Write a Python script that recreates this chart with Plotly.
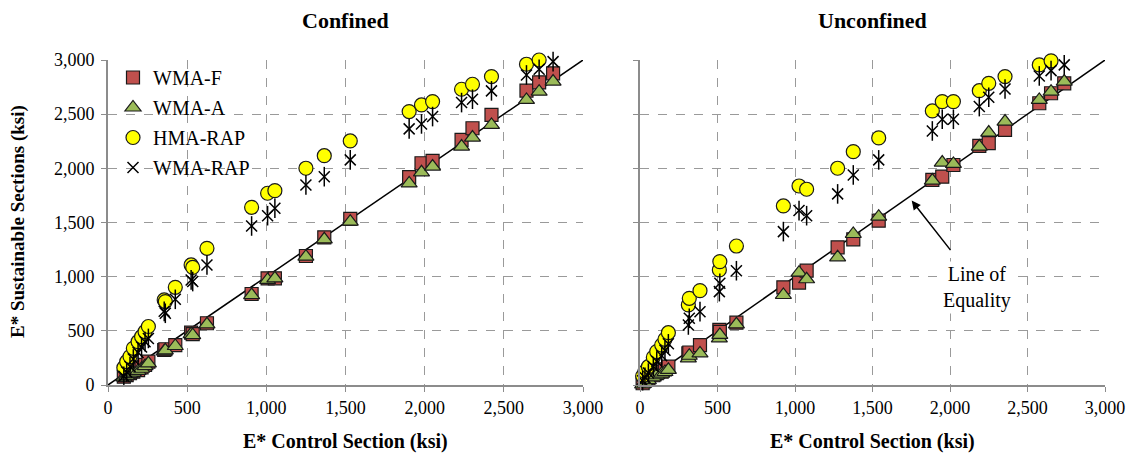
import plotly.graph_objects as go

# ---- Confined (E* control section, ksi) ----
conf_x = [100, 118, 139, 160, 190, 212, 234, 255, 355, 362, 425, 525, 535, 625,
          907, 1008, 1054, 1250, 1366, 1530, 1902, 1980, 2050, 2233, 2302, 2422,
          2643, 2723, 2811]
conf_wma_f = [77, 92, 110, 123, 138, 163, 185, 215, 323, 330, 369, 483, 470, 570,
              840, 985, 985, 1191, 1363, 1533, 1918, 2047, 2068, 2262, 2370, 2493,
              2717, 2794, 2877]
conf_wma_a = [70, 85, 100, 115, 130, 150, 175, 200, 310, 320, 360, 470, 460, 560,
              830, 970, 985, 1185, 1345, 1508, 1861, 1963, 2016, 2201, 2284, 2401,
              2632, 2708, 2801]
conf_hma_rap = [160, 215, 262, 339, 400, 446, 492, 540, 785, 770, 902, 1108, 1085, 1262,
                1640, 1770, 1794, 2001, 2117, 2253, 2524, 2585, 2616, 2730, 2776, 2847,
                2961, 3000, None]
conf_wma_rap = [80, 120, 170, 240, 300, 350, 400, 430, 680, 662, 791, 970, 955, 1108,
                1468, 1563, 1631, 1847, 1923, 2078, 2364, 2410, 2478, 2607, 2638, 2715,
                2862, 2915, 2985]

# ---- Unconfined ----
unc_x = [17, 32, 54, 86, 108, 140, 161, 183, 312, 318, 387, 512, 515, 622,
         925, 1026, 1075, 1275, 1376, 1540, 1886, 1950, 2022, 2189, 2250, 2355,
         2576, 2652, 2737]
unc_wma_f = [16, 40, 62, 90, 110, 123, 145, 169, 292, 300, 369, 508, 490, 575,
             902, 945, 1055, 1271, 1345, 1517, 1893, 1923, 2031, 2207, 2232, 2355,
             2601, 2693, 2785]
unc_wma_a = [5, 25, 45, 70, 90, 105, 120, 140, 246, 270, 292, 431, 462, 560,
             831, 1037, 976, 1179, 1394, 1554, 1887, 2053, 2041, 2201, 2330, 2432,
             2632, 2708, 2801]
unc_hma_rap = [83, 123, 169, 255, 308, 369, 422, 483, 739, 800, 871, 1062, 1139, 1283,
               1653, 1837, 1807, 2001, 2154, 2281, 2530, 2616, 2616, 2717, 2785, 2847,
               2955, 2992, None]
unc_wma_rap = [40, 70, 110, 170, 220, 270, 320, 380, 554, 616, 677, 862, 939, 1055,
               1416, 1610, 1563, 1764, 1939, 2078, 2345, 2453, 2453, 2570, 2656, 2733,
               2853, 2902, 2955]

equality = [0, 3000]
tick_vals = [0, 500, 1000, 1500, 2000, 2500, 3000]
tick_text = ["0", "500", "1,000", "1,500", "2,000", "2,500", "3,000"]

FONT = "Liberation Serif, Tinos, DejaVu Serif, serif"
W, H = 1138, 459

fig = go.Figure()

panels = [
    ("x", "y", conf_x, conf_wma_f, conf_wma_a, conf_hma_rap, conf_wma_rap, True),
    ("x2", "y2", unc_x, unc_wma_f, unc_wma_a, unc_hma_rap, unc_wma_rap, False),
]

for xa, ya, xs, f, a, h, r, legend in panels:
    fig.add_trace(go.Scatter(x=equality, y=equality, mode="lines", xaxis=xa, yaxis=ya,
                             line=dict(color="black", width=1.5), showlegend=False,
                             hoverinfo="skip"))
    fig.add_trace(go.Scatter(x=xs, y=f, mode="markers", name="WMA-F", xaxis=xa, yaxis=ya,
                             legendgroup="f", showlegend=legend, cliponaxis=False,
                             marker=dict(symbol="square", size=13, color="#C0504D",
                                         line=dict(color="#1a1a1a", width=1.2))))
    fig.add_trace(go.Scatter(x=xs, y=a, mode="markers", name="WMA-A", xaxis=xa, yaxis=ya,
                             legendgroup="a", showlegend=legend, cliponaxis=False,
                             marker=dict(symbol="triangle-up", size=14, color="#9BBB59",
                                         line=dict(color="#1a1a1a", width=1.2))))
    fig.add_trace(go.Scatter(x=xs, y=h, mode="markers", name="HMA-RAP", xaxis=xa, yaxis=ya,
                             legendgroup="h", showlegend=legend, cliponaxis=False,
                             marker=dict(symbol="circle", size=14, color="#FFFF00",
                                         line=dict(color="#1a1a1a", width=1.2))))
    # six-armed star: an X plus a vertical stroke
    fig.add_trace(go.Scatter(x=xs, y=r, mode="markers", name="WMA-RAP", xaxis=xa, yaxis=ya,
                             legendgroup="r", showlegend=legend, cliponaxis=False,
                             marker=dict(symbol="x-thin-open", size=11, color="black",
                                         line=dict(color="black", width=1.5))))
    fig.add_trace(go.Scatter(x=xs, y=r, mode="markers", name="WMA-RAP", xaxis=xa, yaxis=ya,
                             legendgroup="r", showlegend=False, cliponaxis=False,
                             marker=dict(symbol="line-ns-open", size=14, color="black",
                                         line=dict(color="black", width=1.5))))

axis_common = dict(
    range=[0, 3000], tickvals=tick_vals, ticktext=tick_text,
    showgrid=True, gridcolor="#9a9a9a", griddash="dash", gridwidth=1,
    showline=True, linecolor="#8c8c8c", linewidth=2,
    ticks="outside", ticklen=5, tickcolor="#8c8c8c", tickwidth=1,
    zeroline=False, tickfont=dict(family=FONT, size=18, color="black"),
    fixedrange=True, automargin=False,
)

y0, y1 = 1 - 385 / H, 1 - 60 / H
fig.update_layout(
    width=W, height=H,
    margin=dict(l=0, r=0, t=0, b=0, autoexpand=False),
    paper_bgcolor="white", plot_bgcolor="white",
    font=dict(family=FONT, color="black"),
    xaxis=dict(axis_common, domain=[108 / W, 583 / W], anchor="y"),
    yaxis=dict(axis_common, domain=[y0, y1], anchor="x", ticklabelstandoff=3),
    xaxis2=dict(axis_common, domain=[640 / W, 1105 / W], anchor="y2"),
    yaxis2=dict(axis_common, domain=[y0, y1], anchor="x2", showticklabels=False),
    showlegend=True,
    legend=dict(x=113 / W, y=1 - 58 / H, xanchor="left", yanchor="top",
                bgcolor="rgba(0,0,0,0)", font=dict(family=FONT, size=20),
                traceorder="grouped", tracegroupgap=1, itemwidth=30),
)


def label(text, x, y, size, angle=0):
    return dict(text=text, x=x / W, y=1 - y / H, xref="paper", yref="paper",
                xanchor="center", yanchor="middle", showarrow=False,
                textangle=angle, font=dict(size=size, family=FONT))


annotations = [
    label("<b>Confined</b>", 345, 20, 22),
    label("<b>Unconfined</b>", 872, 20, 22),
    label("<b>E* Control Section (ksi)</b>", 345, 441, 20),
    label("<b>E* Control Section (ksi)</b>", 872, 441, 20),
    label("<b>E* Sustainable Sections (ksi)</b>", 18, 222, 19, -90),
    # "Line of Equality" callout
    dict(text="Line of<br>Equality", x=2172, y=896, xref="x2", yref="y2",
         xanchor="center", yanchor="middle",
         showarrow=False, bgcolor="white", font=dict(size=20, family=FONT)),
    dict(text="", x=1753, y=1702, xref="x2", yref="y2", ax=2011, ay=1231,
         axref="x2", ayref="y2", showarrow=True, arrowhead=2, arrowsize=1.2,
         arrowwidth=1.5, arrowcolor="black"),
]
fig.update_layout(annotations=annotations)

fig.write_html("out.html")
